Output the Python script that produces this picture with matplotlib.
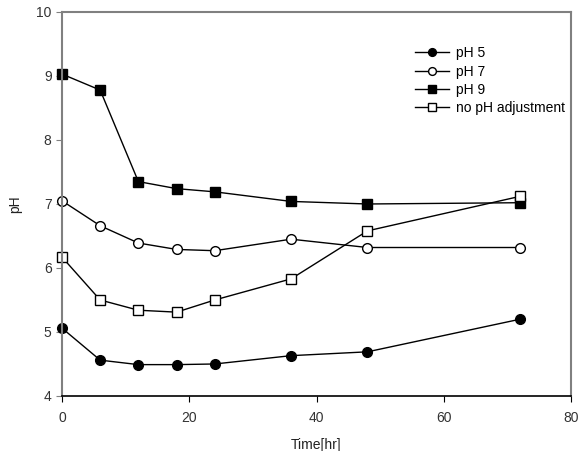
import matplotlib
matplotlib.use("Agg")
import matplotlib.pyplot as plt

plt.rcParams['font.family'] = ['Liberation Sans', 'DejaVu Sans']

time_hr = [0, 6, 12, 18, 24, 36, 48, 72]
ph5 = [5.06, 4.56, 4.49, 4.49, 4.50, 4.63, 4.69, 5.20]
ph7 = [7.05, 6.66, 6.39, 6.29, 6.27, 6.45, 6.32, 6.32]
ph9 = [9.03, 8.78, 7.35, 7.24, 7.19, 7.04, 7.00, 7.02]
no_adj = [6.17, 5.50, 5.34, 5.31, 5.50, 5.83, 6.58, 7.12]

labels = ['pH 5', 'pH 7', 'pH 9', 'no pH adjustment']

fig = plt.figure(figsize=(5.81, 4.51), dpi=100)
ax = fig.add_axes([0.1067, 0.122, 0.8763, 0.8514])

ms = 7
ax.plot(time_hr, ph5, '-o', color='black', mfc='black', mec='black', ms=ms, lw=1, label=labels[0], clip_on=False)
ax.plot(time_hr, ph7, '-o', color='black', mfc='white', mec='black', ms=ms, lw=1, label=labels[1], clip_on=False)
ax.plot(time_hr, ph9, '-s', color='black', mfc='black', mec='black', ms=ms - 0.5, lw=1, label=labels[2], clip_on=False)
ax.plot(time_hr, no_adj, '-s', color='black', mfc='white', mec='black', ms=ms - 0.5, lw=1, label=labels[3], clip_on=False)

ax.set_xlim(0, 80)
ax.set_ylim(4, 10)
ax.set_xticks([0, 20, 40, 60, 80])
ax.set_yticks([4, 5, 6, 7, 8, 9, 10])

grey = '#808080'
for s in ['left', 'top', 'right']:
    ax.spines[s].set_color(grey)
    ax.spines[s].set_linewidth(1.5)
ax.spines['bottom'].set_color('black')
ax.spines['bottom'].set_linewidth(1.2)

ax.tick_params(axis='both', direction='out', length=4, labelsize=10, labelcolor='#333333')
ax.tick_params(axis='y', colors=grey, labelcolor='#333333')
ax.tick_params(axis='x', pad=7)

ax.set_xlabel('Time[hr]', fontsize=10, color='#222222', labelpad=9)
ax.set_ylabel('pH', fontsize=10, color='#222222', labelpad=10)

leg = ax.legend(loc='upper right', bbox_to_anchor=(0.998, 0.925), frameon=False, fontsize=10,
                handlelength=2.4, handletextpad=0.5, labelspacing=0.3, borderaxespad=0,
                markerscale=0.8)

fig.savefig('out.png', dpi=100)
